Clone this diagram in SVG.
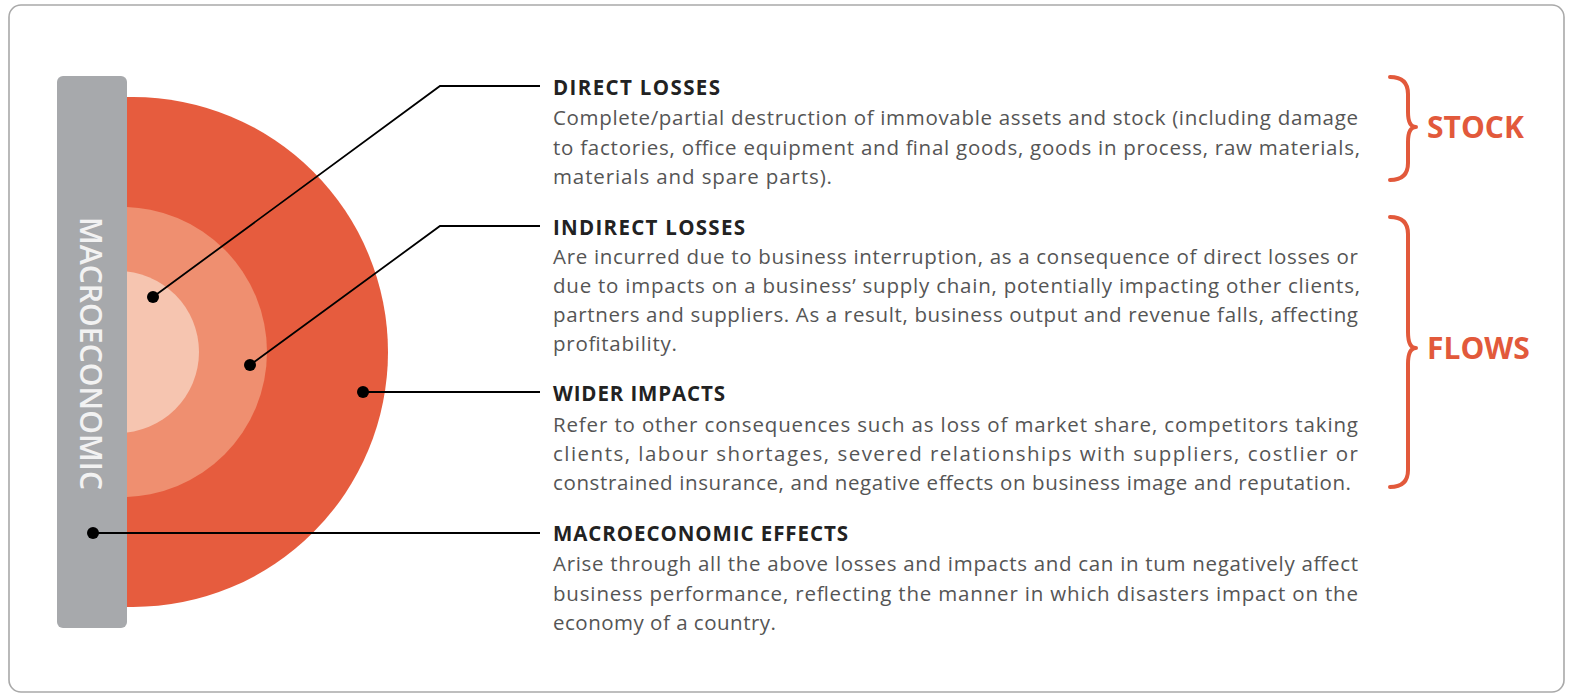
<svg xmlns="http://www.w3.org/2000/svg" width="1570" height="695" viewBox="0 0 1570 695">
  <defs>
    <style>
      .frame { fill: #ffffff; stroke: #a9a9a9; stroke-width: 1.6; }
      .bar { fill: #a7a9ac; }
      .ring-outer { fill: #e65c3e; }
      .ring-mid { fill: #ef8f70; }
      .ring-inner { fill: #f6c5b0; }
      .dot { fill: #000000; }
      .leader { fill: none; stroke: #000000; stroke-width: 1.8; }
      .brace { fill: none; stroke: #e2593b; stroke-width: 4; stroke-linecap: round; stroke-linejoin: round; }
      .head { font-family: "Open Sans", "Noto Sans", "Liberation Sans", sans-serif; font-weight: 700; font-size: 20.5px; fill: #222222; }
      .body { font-family: "Open Sans", "Noto Sans", "Liberation Sans", sans-serif; font-size: 20.5px; fill: #555555; }
      .tag { font-family: "Open Sans", "Noto Sans", "Liberation Sans", sans-serif; font-weight: 700; font-size: 30px; fill: #e2593b; }
      .vlabel { font-family: "Open Sans", "Noto Sans", "Liberation Sans", sans-serif; font-weight: 600; font-size: 30px; fill: #f2f2f2; }
    </style>
    <clipPath id="half">
      <rect x="127" y="0" width="400" height="695"/>
    </clipPath>
  </defs>

  <!-- outer card -->
  <rect class="frame" x="9" y="5" width="1555" height="687" rx="12" ry="12"/>

  <!-- concentric impact rings, cut flat against the side bar -->
  <g id="rings" clip-path="url(#half)">
    <circle class="ring-outer" cx="133" cy="352" r="255"/>
    <circle class="ring-mid" cx="122" cy="352" r="145"/>
    <circle class="ring-inner" cx="118" cy="352" r="81"/>
  </g>

  <!-- macroeconomic side bar -->
  <g id="macro-bar">
    <rect class="bar" x="57" y="76" width="70" height="552" rx="6" ry="6"/>
    <text class="vlabel" transform="translate(80,217) rotate(90)" textLength="273" lengthAdjust="spacingAndGlyphs">MACROECONOMIC</text>
  </g>

  <!-- leader lines -->
  <g id="connectors">
    <polyline class="leader" points="153,297 440,86 540,86"/>
    <polyline class="leader" points="250,365 440,226 540,226"/>
    <polyline class="leader" points="363,392 540,392"/>
    <polyline class="leader" points="93,533 540,533"/>
    <circle class="dot" cx="153" cy="297" r="6"/>
    <circle class="dot" cx="250" cy="365" r="6"/>
    <circle class="dot" cx="363" cy="392" r="6"/>
    <circle class="dot" cx="93" cy="533" r="6"/>
  </g>

  <g id="direct-losses">
    <text class="head" x="553" y="95" textLength="167">DIRECT LOSSES</text>
    <text class="body" x="553" y="125" textLength="805">Complete/partial destruction of immovable assets and stock (including damage</text>
    <text class="body" x="553" y="155" textLength="807">to factories, office equipment and final goods, goods in process, raw materials,</text>
    <text class="body" x="553" y="184" textLength="279">materials and spare parts).</text>
  </g>

  <g id="indirect-losses">
    <text class="head" x="553" y="235" textLength="192">INDIRECT LOSSES</text>
    <text class="body" x="553" y="264" textLength="805">Are incurred due to business interruption, as a consequence of direct losses or</text>
    <text class="body" x="553" y="293" textLength="807">due to impacts on a business’ supply chain, potentially impacting other clients,</text>
    <text class="body" x="553" y="322" textLength="805">partners and suppliers. As a result, business output and revenue falls, affecting</text>
    <text class="body" x="553" y="351" textLength="124">profitability.</text>
  </g>

  <g id="wider-impacts">
    <text class="head" x="553" y="401" textLength="172">WIDER IMPACTS</text>
    <text class="body" x="553" y="432" textLength="805">Refer to other consequences such as loss of market share, competitors taking</text>
    <text class="body" x="553" y="461" textLength="805">clients, labour shortages, severed relationships with suppliers, costlier or</text>
    <text class="body" x="553" y="490" textLength="798">constrained insurance, and negative effects on business image and reputation.</text>
  </g>

  <g id="macroeconomic-effects">
    <text class="head" x="553" y="541" textLength="295">MACROECONOMIC EFFECTS</text>
    <text class="body" x="553" y="571" textLength="805">Arise through all the above losses and impacts and can in tum negatively affect</text>
    <text class="body" x="553" y="601" textLength="805">business performance, reflecting the manner in which disasters impact on the</text>
    <text class="body" x="553" y="630" textLength="223">economy of a country.</text>
  </g>

  <g id="stock">
    <path class="brace" d="M1390,77 Q1408,77 1408,94 L1408,112 Q1408,127 1416,127 Q1408,127 1408,142 L1408,163 Q1408,180 1390,180"/>
    <text class="tag" x="1427" y="138">STOCK</text>
  </g>

  <g id="flows">
    <path class="brace" d="M1390,217 Q1408,217 1408,234 L1408,332 Q1408,348 1416,348 Q1408,348 1408,364 L1408,470 Q1408,487 1390,487"/>
    <text class="tag" x="1427" y="359">FLOWS</text>
  </g>
</svg>
